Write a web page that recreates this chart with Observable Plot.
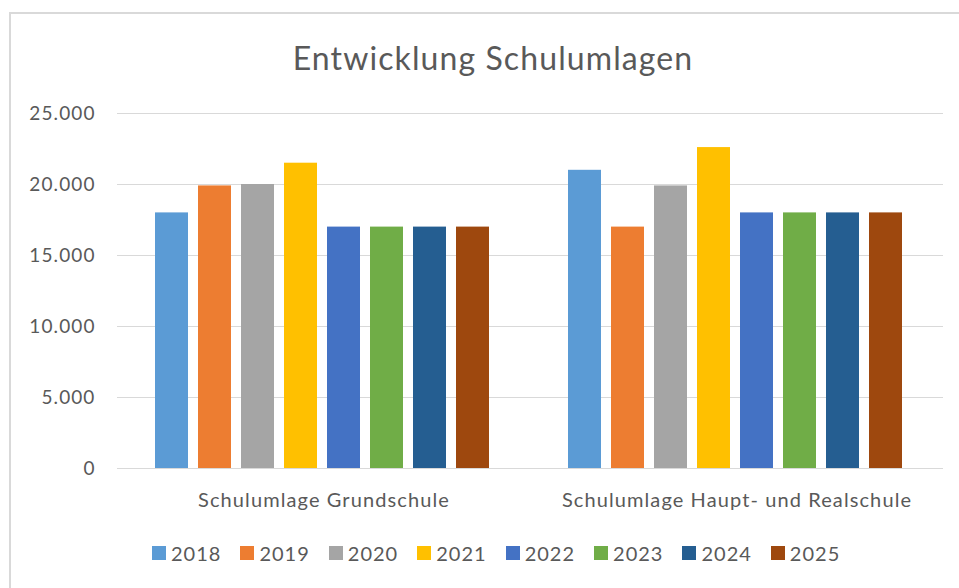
<!DOCTYPE html>
<html>
<head>
<meta charset="utf-8">
<script src="https://cdn.jsdelivr.net/npm/d3@7"></script>
<script src="https://cdn.jsdelivr.net/npm/@observablehq/plot@0.6"></script>
<style>
  html, body { margin: 0; padding: 0; background: #fff; }
  #wrap { position: relative; width: 959px; height: 588px; overflow: hidden; font-family: Lato, sans-serif; }
  #frame { position: absolute; left: 9px; top: 12px; width: 1000px; height: 700px; border: 2px solid #d9d9d9; box-sizing: border-box; }
  #title { position: absolute; left: 0; width: 986px; top: 42px; text-align: center; font-size: 32px; line-height: 32px; color: #595959; letter-spacing: 1.1px; }
  #chart { position: absolute; left: 0; top: 0; }
  #chart text { letter-spacing: 1.1px; }
  #legend { position: absolute; left: 152px; top: 536px; }
  #legend span { margin-right: 19px !important; font-size: 20px; color: #595959; letter-spacing: 1px; }
  #legend svg { margin-right: 5px !important; }
</style>
</head>
<body>
<div id="wrap">
  <div id="frame"></div>
  <div id="title">Entwicklung Schulumlagen</div>
  <div id="chart"></div>
  <div id="legend"></div>
</div>
<script>
const categories = ["Schulumlage Grundschule", "Schulumlage Haupt- und Realschule"];
const years = ["2018", "2019", "2020", "2021", "2022", "2023", "2024", "2025"];
const grundschule = [18000, 19900, 20000, 21500, 17000, 17000, 17000, 17000];
const hauptReal = [21000, 17000, 19900, 22600, 18000, 18000, 18000, 18000];
const colors = ["#5B9BD5", "#ED7D31", "#A5A5A5", "#FFC000", "#4472C4", "#70AD47", "#255E91", "#9E480E"];
const yTicks = [0, 5000, 10000, 15000, 20000, 25000];

const data = [];
years.forEach((yr, i) => data.push({category: categories[0], year: yr, value: grundschule[i]}));
years.forEach((yr, i) => data.push({category: categories[1], year: yr, value: hauptReal[i]}));

const fmt = d => d3.format(",")(d).replace(/,/g, ".");

const chart = Plot.plot({
  width: 959,
  height: 588,
  marginTop: 113,
  marginBottom: 120,
  marginLeft: 117,
  marginRight: 16,
  style: {fontFamily: "Lato, sans-serif", color: "#595959", background: "transparent", overflow: "visible"},
  fx: {domain: categories, padding: 0, label: null},
  x: {domain: years, axis: null, paddingInner: 0.2414, paddingOuter: 0.868, align: 0.473},
  y: {domain: [0, 25000], axis: null},
  color: {domain: years, range: colors},
  marks: [
    Plot.gridY(yTicks, {stroke: "#d9d9d9", strokeOpacity: 1, strokeWidth: 1}),
    Plot.barY(data, {fx: "category", x: "year", y: "value", fill: "year"}),
    Plot.axisY(yTicks, {tickSize: 0, tickPadding: 22, tickFormat: fmt, fontSize: 19, fill: "#595959", label: null}),
    Plot.axisFx({anchor: "bottom", tickSize: 0, tickPadding: 24, fontSize: 20, fill: "#595959", label: null})
  ]
});
document.getElementById("chart").appendChild(chart);

const legend = Plot.legend({
  color: {domain: years, range: colors},
  legend: "swatches",
  swatchSize: 14,
  style: {fontFamily: "Lato, sans-serif", fontSize: "20px", color: "#595959"}
});
document.getElementById("legend").appendChild(legend);
</script>
</body>
</html>
